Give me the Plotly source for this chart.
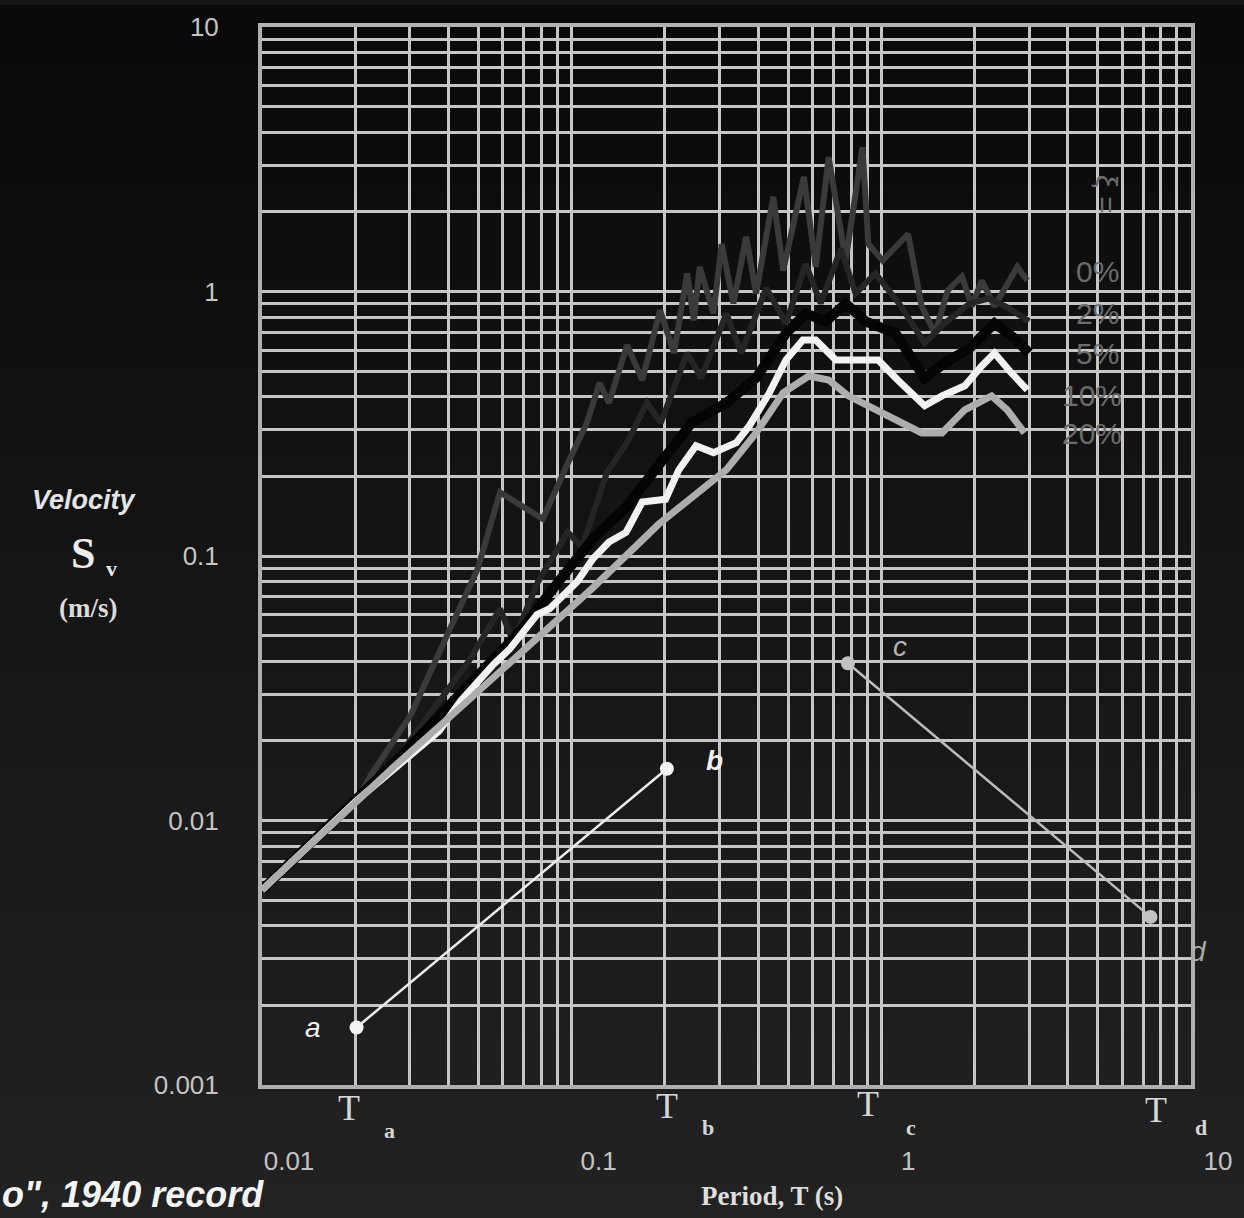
import math
import plotly.graph_objects as go

# ---------------- data ----------------
period_0 = [0.0100, 0.0202, 0.0226, 0.0303, 0.0397, 0.0497, 0.0587, 0.0681, 0.0807, 0.0964,
            0.112, 0.123, 0.132, 0.151, 0.169, 0.193, 0.214, 0.236, 0.248, 0.259,
            0.287, 0.305, 0.333, 0.366, 0.394, 0.448, 0.482, 0.562, 0.614, 0.676,
            0.767, 0.869, 0.908, 1.01, 1.22, 1.35, 1.49, 1.64, 1.82, 1.96,
            2.11, 2.32, 2.75, 2.96]
sv_0 = [0.00546, 0.0119, 0.0150, 0.0252, 0.0505, 0.0893, 0.174, 0.156, 0.138, 0.220,
        0.319, 0.451, 0.379, 0.627, 0.463, 0.849, 0.585, 1.17, 0.778, 1.24,
        0.826, 1.51, 0.901, 1.61, 0.983, 2.28, 1.20, 2.71, 1.24, 3.22,
        1.31, 3.51, 1.51, 1.31, 1.65, 0.879, 0.695, 1.01, 1.14, 0.879,
        1.10, 0.879, 1.24, 1.10]

period_2 = [0.0100, 0.0202, 0.0277, 0.0373, 0.0465, 0.0587, 0.0647, 0.0778, 0.0970, 0.108,
            0.130, 0.151, 0.175, 0.194, 0.236, 0.262, 0.316, 0.353, 0.425, 0.492,
            0.570, 0.637, 0.740, 0.826, 0.957, 1.14, 1.38, 1.60, 1.93, 2.23,
            2.59, 3.00]
sv_2 = [0.00546, 0.0119, 0.0176, 0.0283, 0.0400, 0.0632, 0.0475, 0.0798, 0.123, 0.108,
        0.207, 0.268, 0.379, 0.319, 0.585, 0.471, 0.826, 0.585, 1.03, 0.758,
        1.27, 0.901, 1.45, 0.983, 1.17, 0.901, 0.638, 0.758, 0.901, 0.942,
        0.863, 0.771]

period_5 = [0.0100, 0.0202, 0.0277, 0.0373, 0.0497, 0.0681, 0.0917, 0.117, 0.150, 0.191,
            0.244, 0.316, 0.394, 0.492, 0.570, 0.662, 0.767, 0.889, 1.11, 1.38,
            1.60, 1.93, 2.32, 2.69, 3.00]
sv_5 = [0.00546, 0.0119, 0.0172, 0.0248, 0.0351, 0.0518, 0.0813, 0.116, 0.153, 0.220,
        0.319, 0.379, 0.471, 0.695, 0.826, 0.771, 0.901, 0.771, 0.695, 0.471,
        0.536, 0.611, 0.758, 0.665, 0.585]

period_10 = [0.0100, 0.0202, 0.0373, 0.0438, 0.0559, 0.0633, 0.0773, 0.0849, 0.104, 0.117,
             0.132, 0.150, 0.169, 0.201, 0.222, 0.252, 0.287, 0.340, 0.375, 0.435,
             0.492, 0.558, 0.614, 0.713, 0.783, 0.977, 1.13, 1.38, 1.57, 1.86,
             2.11, 2.32, 2.63, 2.96]
sv_10 = [0.00546, 0.0119, 0.0218, 0.0283, 0.0389, 0.0447, 0.0600, 0.0632, 0.0798, 0.0975,
         0.113, 0.123, 0.160, 0.164, 0.212, 0.261, 0.246, 0.268, 0.311, 0.414,
         0.551, 0.655, 0.655, 0.551, 0.551, 0.551, 0.463, 0.370, 0.403, 0.440,
         0.523, 0.585, 0.492, 0.425]

period_20 = [0.0100, 0.0164, 0.0202, 0.0267, 0.0438, 0.0718, 0.117, 0.191, 0.257, 0.316,
             0.394, 0.482, 0.583, 0.676, 0.783, 0.957, 1.13, 1.35, 1.57, 1.86,
             2.27, 2.55, 2.90]
sv_20 = [0.00546, 0.00942, 0.0119, 0.0160, 0.0268, 0.0451, 0.0758, 0.132, 0.174, 0.212,
         0.292, 0.414, 0.479, 0.463, 0.403, 0.357, 0.327, 0.292, 0.292, 0.357,
         0.403, 0.357, 0.292]

line_ab_T = [0.0202, 0.203]
line_ab_sv = [0.00165, 0.0157]
line_cd_T = [0.78, 7.4]
line_cd_sv = [0.0393, 0.00432]
point_names = ["a", "b", "c", "d"]

damping_labels = ["0%", "2%", "5%", "10%", "20%"]
x_tick_vals = [0.01, 0.1, 1, 10]
x_tick_text = ["0.01", "0.1", "1", "10"]
y_tick_vals = [0.001, 0.01, 0.1, 1, 10]
y_tick_text = ["0.001", "0.01", "0.1", "1", "10"]

# ---------------- geometry helpers (layout only) ----------------
W, H = 1244, 1218
L, R, TOP, BOT = 262, 1198, 22, 1085


def ax(px):
    return (px - L) / (R - L)


def ay(py):
    return (BOT - py) / (BOT - TOP)


SANS = "Liberation Sans, Arial, sans-serif"
SERIF = "Liberation Serif, Times New Roman, serif"

fig = go.Figure()

series = [
    (period_0, sv_0, "#3a3a3a", 6, damping_labels[0]),
    (period_2, sv_2, "#252525", 6, damping_labels[1]),
    (period_5, sv_5, "#040404", 10, damping_labels[2]),
    (period_10, sv_10, "#f2f2f2", 7, damping_labels[3]),
    (period_20, sv_20, "#adadad", 7, damping_labels[4]),
]
for xs, ys, col, w, name in series:
    fig.add_trace(go.Scatter(x=xs, y=ys, mode="lines", name=name,
                             line=dict(color=col, width=w, shape="linear"),
                             showlegend=False, hoverinfo="skip"))

fig.add_trace(go.Scatter(x=line_ab_T, y=line_ab_sv, mode="lines+markers",
                         line=dict(color="#ededed", width=2.5),
                         marker=dict(color="#f2f2f2", size=14),
                         showlegend=False, hoverinfo="skip"))
fig.add_trace(go.Scatter(x=line_cd_T, y=line_cd_sv, mode="lines+markers",
                         line=dict(color="#bdbdbd", width=2.5),
                         marker=dict(color="#c2c2c2", size=14),
                         showlegend=False, hoverinfo="skip"))

# background gradient bands (style only)
nb = 40
top_c, bot_c = 9, 34
shapes = []
for i in range(nb):
    y0p = i * H / nb
    y1p = (i + 1) * H / nb
    v = int(round(top_c + (bot_c - top_c) * (i + 0.5) / nb))
    shapes.append(dict(type="rect", xref="paper", yref="paper", layer="below",
                       x0=ax(0) - 0.01, x1=ax(W) + 0.01, y0=ay(y1p + 1), y1=ay(y0p),
                       fillcolor=f"rgb({v},{v},{v})", line=dict(width=0)))

grid_col = "#c6c6c6"

ann = []


def add_text(text, px, py, size, color, family, xanchor="center", yanchor="middle", angle=0):
    ann.append(dict(text=text, x=ax(px), y=ay(py), xref="paper", yref="paper",
                    showarrow=False, xanchor=xanchor, yanchor=yanchor, textangle=angle,
                    font=dict(size=size, color=color, family=family)))


add_text("<b><i>Velocity</i></b>", 83, 497, 27, "#e4e4e4", SANS)
add_text("<b>S</b>", 82, 551, 44, "#ececec", SERIF)
add_text("<b>v</b>", 110, 566, 22, "#ececec", SERIF)
add_text("<b>(m/s)</b>", 87, 606, 27, "#dcdcdc", SERIF)
add_text("<b>Period, T (s)</b>", 776, 1197, 27, "#dedede", SERIF)
add_text("<b><i>o\", 1940 record</i></b>", -2, 1218, 36, "#f4f4f4", SANS,
         xanchor="left", yanchor="bottom")

t_sub = [("a", 350, 1108, 390, 1131), ("b", 670, 1106, 711, 1128),
         ("c", 873, 1104, 916, 1128), ("d", 1163, 1110, 1208, 1128)]
for s, tx, ty, sx, sy in t_sub:
    add_text("T", tx, ty, 36, "#d6d6d6", SERIF)
    add_text("<b>" + s + "</b>", sx, sy, 22, "#d6d6d6", SERIF)

lab_pos = [(1104, 268), (1104, 310), (1104, 350), (1098, 392), (1098, 430)]
for lab, (px, py) in zip(damping_labels, lab_pos):
    add_text(lab, px, py, 30, "#6c6c6c", SANS)
add_text("ξ =", 1113, 190, 30, "#6c6c6c", SANS, angle=90)

# point letters anchored on the points (log axes take log10 positions)
pt_T = line_ab_T + line_cd_T
pt_sv = line_ab_sv + line_cd_sv
styles = [(-44, 0, "#f0f0f0", "<i>a</i>"), (48, 8, "#f0f0f0", "<b><i>b</i></b>"),
          (52, 17, "#b4b4b4", "<i>c</i>"), (48, -35, "#a8a8a8", "<i>d</i>")]
for name, t, s, (dx, dy, col, txt) in zip(point_names, pt_T, pt_sv, styles):
    ann.append(dict(text=txt, x=math.log10(t), y=math.log10(s), xref="x", yref="y",
                    showarrow=False, xshift=dx, yshift=dy,
                    font=dict(size=28, color=col, family=SANS)))

axis_common = dict(type="log", showgrid=True, gridcolor=grid_col, gridwidth=2.5,
                   showline=True, linecolor="#b0b0b0", linewidth=4, mirror=True,
                   ticks="", zeroline=False,
                   tickfont=dict(size=26, color="#c4c4c4", family=SANS))

x_minor = [m * 10 ** k for k in range(-2, 1) for m in range(2, 10)]
y_minor = [m * 10 ** k for k in range(-3, 1) for m in range(2, 10)]

fig.update_layout(
    width=W, height=H,
    margin=dict(l=L, r=W - R, t=TOP, b=H - BOT, pad=0),
    paper_bgcolor="#161616", plot_bgcolor="rgba(0,0,0,0)",
    shapes=shapes, annotations=ann, showlegend=False,
    xaxis=dict(range=[-2, 1], tickmode="array", tickvals=x_tick_vals, ticktext=x_tick_text,
               ticklabelstandoff=50, ticklabelshift=27,
               minor=dict(tickmode="array", tickvals=x_minor, showgrid=True,
                          gridcolor=grid_col, gridwidth=2.5),
               **axis_common),
    yaxis=dict(range=[-3, 1], tickmode="array", tickvals=y_tick_vals, ticktext=y_tick_text,
               ticklabelstandoff=34,
               minor=dict(tickmode="array", tickvals=y_minor, showgrid=True,
                          gridcolor=grid_col, gridwidth=2.5),
               **axis_common),
)

fig.write_html("out.html")
